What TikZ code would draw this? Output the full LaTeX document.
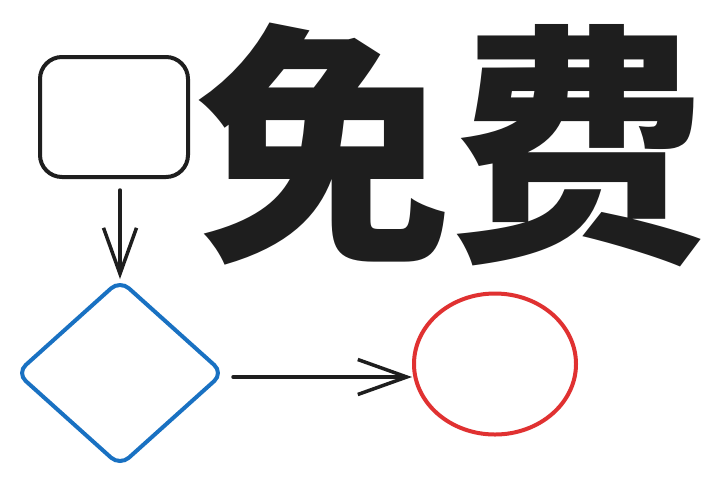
\documentclass[tikz,border=0pt]{standalone}
\usepackage{fontspec}
\newfontfamily\cjk{Noto Sans CJK SC}
\usetikzlibrary{shapes.geometric,arrows.meta}
\definecolor{ink}{HTML}{1E1E1E}
\definecolor{exblue}{HTML}{1971C2}
\definecolor{exred}{HTML}{E03131}
\tikzset{
  box/.style={draw=ink, line width=4pt, rounded corners=22pt, minimum width=148pt, minimum height=120pt, inner sep=0pt},
  dia/.style={draw=exblue, line width=4pt, diamond, rounded corners=12pt, minimum width=208pt, minimum height=187pt, inner sep=0pt},
  circ/.style={draw=exred, line width=4pt, ellipse, minimum width=162pt, minimum height=141pt, inner sep=0pt},
  conn/.style={draw=ink, line width=3.5pt, line cap=round},
  vtip/.style={-{Straight Barb[length=46pt,width=33pt,line width=3.5pt]}},
  htip/.style={-{Straight Barb[length=49pt,width=35pt,line width=3.5pt]}},
  word/.style={text=ink, inner sep=0pt, font=\cjk\bfseries\fontsize{255}{255}\selectfont}
}
\begin{document}
\begin{tikzpicture}[x=1pt,y=-1pt]
\fill[white] (0,0) rectangle (708,483);
\useasboundingbox (0,0) rectangle (708,483);
\node[box] (sq) at (114,117) {};
\node[dia] (d) at (120,373) {};
\node[circ] (c) at (495,364) {};
\node[word] (w) at (451,145) {免费};
\draw[conn,vtip] (sq.south) ++(6,11) coordinate (a1) -- (d.north |- 0,279) coordinate (a2);
\draw[conn,htip] (233,377) coordinate (b1) -- (c.west |- 0,377) coordinate (b2);
\end{tikzpicture}
\end{document}
